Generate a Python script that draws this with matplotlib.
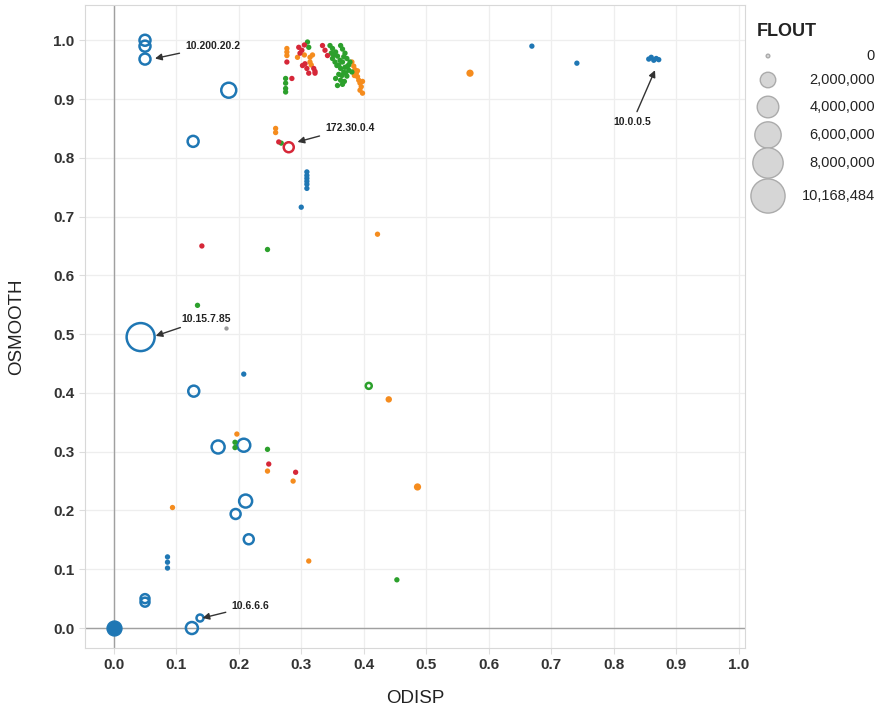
import matplotlib.pyplot as plt
import numpy as np

plt.rcParams['font.family'] = ['Liberation Sans', 'DejaVu Sans']

BLUE = "#1f77b4"
ORANGE = "#f58c1e"
GREEN = "#2ca02c"
RED = "#d62738"
GRAY = "#9a9a9a"

# ---- data (ODISP, OSMOOTH, FLOUT) ----
blue_x = [0.050, 0.050, 0.050, 0.184, 0.127, 0.043, 0.128, 0.167, 0.208, 0.211,
          0.195, 0.216, 0.050, 0.050, 0.125, 0.138,
          0.309, 0.309, 0.309, 0.309, 0.309, 0.309, 0.300, 0.086, 0.086, 0.086,
          0.208, 0.669, 0.741, 0.856, 0.860, 0.864, 0.868, 0.872]
blue_y = [1.000, 0.990, 0.968, 0.915, 0.828, 0.495, 0.403, 0.308, 0.311, 0.216,
          0.194, 0.151, 0.050, 0.044, 0.000, 0.017,
          0.776, 0.770, 0.765, 0.760, 0.755, 0.748, 0.716, 0.121, 0.112, 0.102,
          0.432, 0.990, 0.961, 0.968, 0.971, 0.966, 0.969, 0.967]
blue_f = [1470000, 1470000, 1470000, 2830000, 1470000, 10168484, 1470000, 2100000, 2100000, 2100000,
          1190000, 1190000, 940000, 940000, 1770000, 520000,
          60000, 60000, 60000, 60000, 60000, 60000, 60000, 60000, 60000, 60000,
          60000, 60000, 60000, 60000, 60000, 60000, 60000, 60000]

# many flows sitting on the origin
origin_x = [0.0]
origin_y = [0.0]
origin_f = [2800000]

green_x = [0.346, 0.350, 0.355, 0.358, 0.363, 0.366, 0.370, 0.362, 0.366, 0.373,
           0.378, 0.357, 0.363, 0.370, 0.374, 0.368, 0.360, 0.355, 0.363, 0.373,
           0.358, 0.366, 0.310, 0.312, 0.275, 0.275, 0.275, 0.275, 0.350, 0.354,
           0.376, 0.381, 0.352, 0.360, 0.368, 0.365, 0.371, 0.348, 0.376, 0.369,
           0.268, 0.246, 0.134, 0.408, 0.194, 0.194, 0.246, 0.453]
green_y = [0.991, 0.986, 0.980, 0.973, 0.991, 0.985, 0.978, 0.966, 0.963, 0.969,
           0.963, 0.957, 0.952, 0.954, 0.956, 0.946, 0.942, 0.935, 0.932, 0.939,
           0.923, 0.925, 0.997, 0.988, 0.935, 0.927, 0.918, 0.912, 0.969, 0.963,
           0.949, 0.946, 0.975, 0.958, 0.972, 0.940, 0.944, 0.978, 0.958, 0.930,
           0.825, 0.644, 0.549, 0.412, 0.316, 0.307, 0.304, 0.082]
green_f = [60000, 60000, 60000, 60000, 60000, 60000, 60000, 60000, 60000, 60000,
           60000, 60000, 60000, 60000, 60000, 60000, 60000, 60000, 60000, 60000,
           60000, 60000, 60000, 60000, 60000, 60000, 60000, 60000, 60000, 60000,
           60000, 60000, 60000, 60000, 60000, 60000, 60000, 60000, 60000, 60000,
           60000, 60000, 60000, 354000, 60000, 60000, 60000, 60000]

red_x = [0.277, 0.285, 0.296, 0.301, 0.298, 0.302, 0.309, 0.320, 0.322, 0.306,
         0.334, 0.338, 0.342, 0.312, 0.322, 0.305,
         0.264, 0.141, 0.248, 0.291, 0.280]
red_y = [0.963, 0.935, 0.988, 0.983, 0.978, 0.957, 0.952, 0.952, 0.947, 0.960,
         0.991, 0.983, 0.974, 0.944, 0.944, 0.992,
         0.827, 0.650, 0.279, 0.265, 0.818]
red_f = [60000, 60000, 60000, 60000, 60000, 60000, 60000, 60000, 60000, 60000,
         60000, 60000, 60000, 60000, 60000, 60000,
         60000, 60000, 60000, 60000, 1200000]

orange_x = [0.277, 0.277, 0.277, 0.294, 0.314, 0.314, 0.316, 0.318, 0.381, 0.384,
            0.386, 0.388, 0.390, 0.392, 0.394, 0.398, 0.396, 0.394, 0.398, 0.385,
            0.390, 0.305,
            0.259, 0.259, 0.422, 0.440, 0.197, 0.246, 0.287, 0.486, 0.312, 0.094, 0.570]
orange_y = [0.986, 0.980, 0.974, 0.971, 0.971, 0.963, 0.958, 0.975, 0.963, 0.956,
            0.950, 0.944, 0.938, 0.932, 0.927, 0.930, 0.921, 0.915, 0.910, 0.940,
            0.948, 0.975,
            0.850, 0.843, 0.670, 0.389, 0.330, 0.267, 0.250, 0.240, 0.114, 0.205, 0.944]
orange_f = [60000, 60000, 60000, 60000, 60000, 60000, 60000, 60000, 60000, 60000,
            60000, 60000, 60000, 60000, 60000, 60000, 60000, 60000, 60000, 60000,
            60000, 60000,
            60000, 60000, 60000, 140000, 60000, 60000, 60000, 210000, 60000, 60000, 210000]

gray_x = [0.179]
gray_y = [0.510]
gray_f = [0]

legend_vals = [0, 2000000, 4000000, 6000000, 8000000, 10168484]
legend_labels = ["0", "2,000,000", "4,000,000", "6,000,000", "8,000,000", "10,168,484"]

notes = ["10.200.20.2", "172.30.0.4", "10.0.0.5", "10.15.7.85", "10.6.6.6"]
note_xy = [(0.066, 0.969), (0.294, 0.827), (0.866, 0.949), (0.067, 0.497), (0.142, 0.017)]
note_text = [(0.114, 0.990), (0.338, 0.851), (0.83, 0.861), (0.108, 0.526), (0.188, 0.037)]


def msize(f, scale=1.0):
    # diameter in px grows with sqrt of FLOUT, converted to points^2
    d = np.sqrt(9 + np.asarray(f, dtype=float) * 7.62e-5) * scale
    return (d * 0.72) ** 2


def draw(ax, xs, ys, fs, color):
    fs = np.asarray(fs)
    small = fs <= 250000
    xs = np.asarray(xs)
    ys = np.asarray(ys)
    # tiny marks read as solid dots, bigger ones as open rings
    ax.scatter(xs[small], ys[small], s=msize(fs[small]) * 2.1, color=color,
               linewidths=0, zorder=3)
    ax.scatter(xs[~small], ys[~small], s=msize(fs[~small]), facecolors="none",
               edgecolors=color, linewidths=1.8, zorder=3)


fig = plt.figure(figsize=(8.8, 7.27), dpi=100)
ax = fig.add_axes([85 / 880, 79 / 727, 660 / 880, 643 / 727])

ax.set_xlim(-0.046, 1.01)
ax.set_ylim(-0.034, 1.06)
ticks = np.arange(0, 1.01, 0.1)
ax.set_xticks(ticks)
ax.set_yticks(ticks)
ax.set_xticklabels([f"{t:.1f}" for t in ticks])
ax.set_yticklabels([f"{t:.1f}" for t in ticks])
ax.tick_params(axis="both", labelsize=11, colors="#333333", length=4, width=0.8)
ax.tick_params(axis="both", color="#dddddd")
for lab in ax.get_xticklabels() + ax.get_yticklabels():
    lab.set_fontweight("bold")
ax.grid(color="#eeeeee", linewidth=0.9)
ax.set_axisbelow(True)
for sp in ax.spines.values():
    sp.set_color("#d8d8d8")
    sp.set_linewidth(0.8)
ax.axhline(0, color="#a0a0a0", linewidth=1, zorder=1)
ax.axvline(0, color="#a0a0a0", linewidth=1, zorder=1)

ax.set_xlabel("ODISP", fontsize=13.5, color="#222222", labelpad=13)
ax.set_ylabel("OSMOOTH", fontsize=13.5, color="#222222", labelpad=20)

draw(ax, blue_x, blue_y, blue_f, BLUE)
ax.scatter(origin_x, origin_y, s=msize(origin_f), color=BLUE, zorder=3)
draw(ax, orange_x, orange_y, orange_f, ORANGE)
draw(ax, green_x, green_y, green_f, GREEN)
draw(ax, red_x, red_y, red_f, RED)
draw(ax, gray_x, gray_y, gray_f, GRAY)

for name, xy, txt in zip(notes, note_xy, note_text):
    ha = "center" if name == "10.0.0.5" else "left"
    ax.annotate(name, xy=xy, xytext=txt, fontsize=7.5, fontweight="bold",
                color="#222222", ha=ha, va="center", zorder=5,
                arrowprops=dict(arrowstyle="-|>", color="#333333", lw=1,
                                mutation_scale=10, shrinkA=2, shrinkB=0))

# size legend
lg = fig.add_axes([745 / 880, 507 / 727, 135 / 880, 205 / 727])
lg.set_xlim(0, 135)
lg.set_ylim(205, 0)
lg.axis("off")
leg_y = [41, 65, 92, 120, 148, 181]
lg.scatter([23] * len(legend_vals), leg_y, s=msize(legend_vals, 1.22),
           color="#d6d6d6", edgecolors="#ababab", linewidths=1)
for yy, lab in zip(leg_y, legend_labels):
    lg.text(130, yy, lab, ha="right", va="center", fontsize=10.5, color="#222222")
lg.text(12, 17, "FLOUT", ha="left", va="center", fontsize=13, fontweight="bold",
        color="#222222")

fig.savefig("out.png", dpi=100)
